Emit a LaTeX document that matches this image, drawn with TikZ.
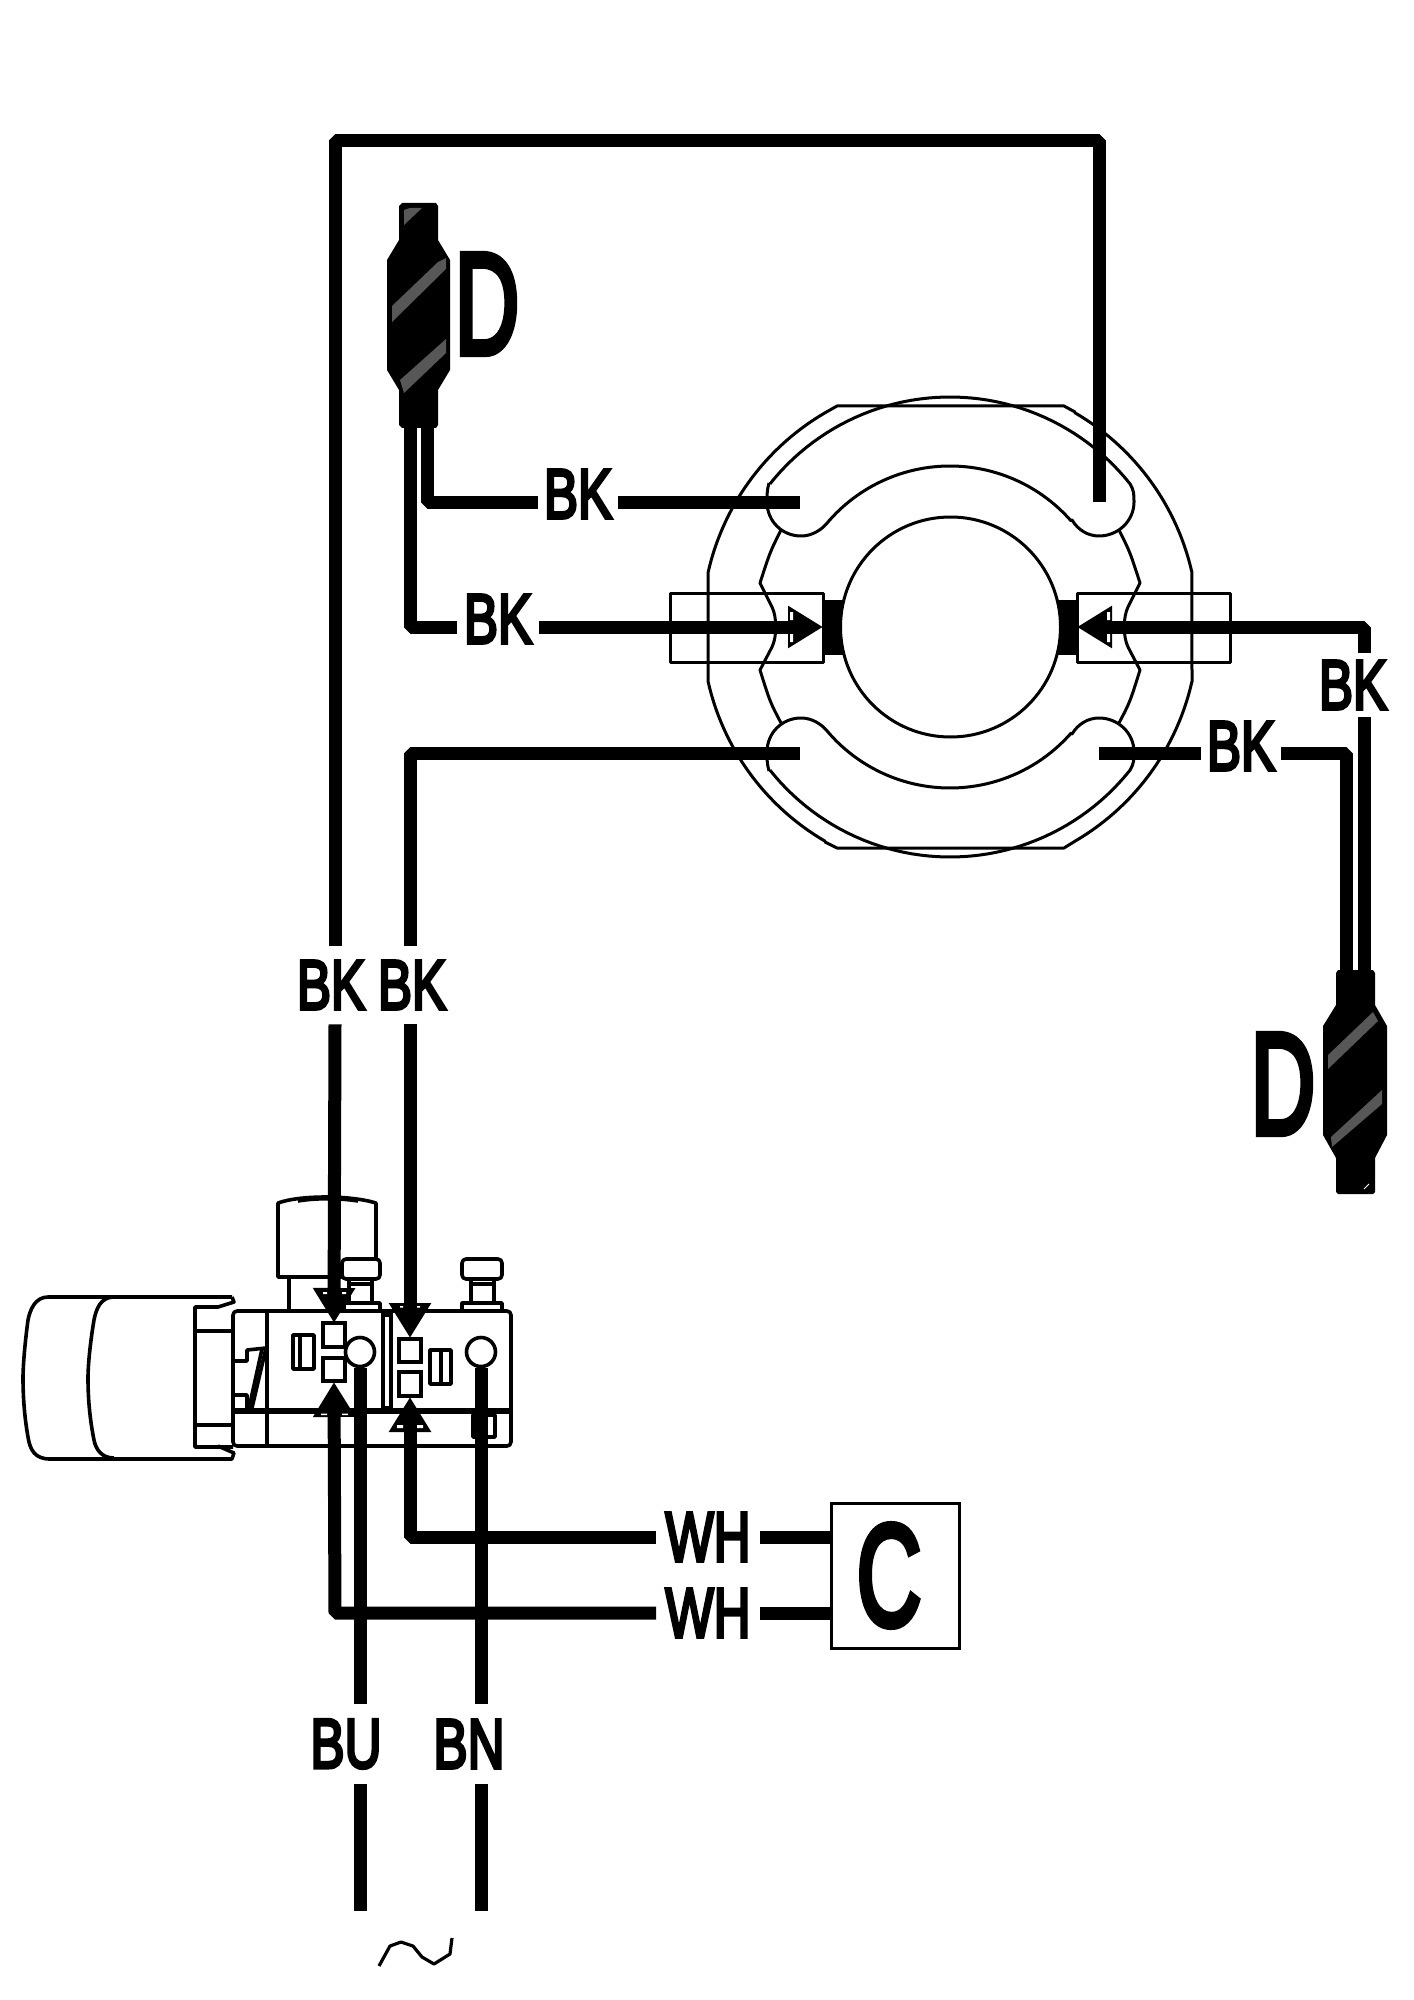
\documentclass[tikz,border=0pt]{standalone}
\usepackage{fontspec}
\setmainfont{Liberation Sans}
\newfontfamily\lblfont[FakeBold=5]{Liberation Sans}
\usetikzlibrary{arrows.meta}
\newcommand{\wirelabeltext}[1]{\fontsize{35pt}{35pt}\lblfont\scalebox{.73}[1]{#1}}
\newcommand{\bigtext}[1]{\fontsize{72pt}{72pt}\lblfont\scalebox{.62}[1]{#1}}
\tikzset{
  wire/.style={line width=6.5pt,line join=bevel,line cap=butt},
  wirearrow/.style={wire,-{Triangle[length=17.5pt,width=20pt]}},
  thinline/.style={line width=1.5pt,line join=round},
  partline/.style={line width=1.8pt,line join=round},
  hatch/.style={fill=black!66,draw=none},
  hlabel/.style={inner sep=0pt,minimum height=26pt},
  vlabel/.style={inner sep=0pt,minimum width=36pt},
  plug/.style={fill=black,draw=none},
  sliver/.style={fill=white,draw=none}
}
\begin{document}
\begin{tikzpicture}[x=0.5pt,y=-0.5pt]
\useasboundingbox (0,0) rectangle (1413,2000);

% ---------- motor / rotor ----------
\draw[thinline] (837,406) -- (1064,406) -- (1075,412)
  -- plot[domain=-59.8:-12.8,samples=30] ({950+248*cos(\x)},{627+248*sin(\x)})
  -- (1192,682)
  -- plot[domain=12.8:59.8,samples=30] ({950+248*cos(\x)},{627+248*sin(\x)})
  -- (1064,848) -- (837,848) -- (825,842)
  -- plot[domain=120.2:167.2,samples=30] ({950+248*cos(\x)},{627+248*sin(\x)})
  -- (708,572)
  -- plot[domain=192.8:239.8,samples=30] ({950+248*cos(\x)},{627+248*sin(\x)})
  -- cycle;
% upper winding
\draw[thinline] plot[domain=218.5:321.5,samples=50] ({950+230*cos(\x)},{627+230*sin(\x)})
  .. controls (1134,490) and (1134,495) .. (1134,502)
  .. controls (1134,521) and (1118,536) .. (1099,536)
  .. controls (1088,536) and (1078,530) .. (1072,520)
  -- plot[domain=318.7:221.3,samples=50] ({950+161*cos(\x)},{627+161*sin(\x)})
  .. controls (822,530) and (812,536) .. (801,536)
  .. controls (782,536) and (767,521) .. (767,502)
  .. controls (767,495) and (767,490) .. (769,483);
% lower winding
\draw[thinline] plot[domain=141.5:38.5,samples=50] ({950+230*cos(\x)},{627+230*sin(\x)})
  .. controls (1134,764) and (1134,759) .. (1134,752)
  .. controls (1134,733) and (1118,718) .. (1099,718)
  .. controls (1088,718) and (1078,724) .. (1072,734)
  -- plot[domain=41.3:138.7,samples=50] ({950+161*cos(\x)},{627+161*sin(\x)})
  .. controls (822,724) and (812,718) .. (801,718)
  .. controls (782,718) and (767,733) .. (767,752)
  .. controls (767,759) and (767,764) .. (769,771);
% pole outlines
\draw[thinline] (1119,530) .. controls (1130,552) .. (1140,583) -- (1128,607)
  .. controls (1123,617) and (1123,637) .. (1128,647) -- (1140,670)
  .. controls (1130,702) .. (1119,723);
\draw[thinline] (781,530) .. controls (770,552) .. (760,583) -- (772,607)
  .. controls (777,617) and (777,637) .. (772,647) -- (760,670)
  .. controls (770,702) .. (781,723);
% brush holders
\draw[thinline] (670,593) rectangle (823,662);
\draw[thinline] (1077,593) rectangle (1230,662);
\fill (823,600) rectangle (860,655);
\fill (1040,600) rectangle (1077,655);
\node[draw,thinline,fill=white,circle,inner sep=0pt,minimum size=110pt] (rotor) at (950.5,627) {};

% ---------- switch ----------
\draw[partline] (232,1297) -- (48,1297) .. controls (35,1297) and (30,1310) .. (28,1320)
  .. controls (24,1350) and (23,1370) .. (23,1378)
  .. controls (23,1400) and (25,1420) .. (28,1437)
  .. controls (30,1450) and (35,1459) .. (50,1459) -- (232,1459) -- (234,1453) -- (218,1446);
\draw[partline] (114,1297) .. controls (100,1297) and (96,1310) .. (94,1320)
  .. controls (89,1350) and (88,1370) .. (88,1378)
  .. controls (88,1400) and (90,1420) .. (94,1440)
  .. controls (96,1450) and (102,1458) .. (114,1458);
\draw[partline] (232,1297) -- (234,1302) -- (218,1307) -- (195,1307) -- (195,1447) -- (233,1447);
\draw[partline] (195,1331) -- (233,1331) (195,1425) -- (233,1425);
% cylinder
\draw[partline] (278,1277) -- (278,1203) .. controls (300,1195) and (350,1195) .. (376,1203) -- (376,1277) -- cycle;
\draw[partline] (298,1201) .. controls (315,1198) and (340,1198) .. (358,1201);
\draw[partline] (289,1277) -- (289,1311);
% screws
\draw[partline,fill=white,rounded corners=2pt] (342,1259) rectangle (380,1279);
\draw[line width=2pt,fill=white] (349,1279) rectangle (372,1303);
\draw[partline] (349,1284) -- (372,1284);
\draw[partline,fill=white] (344,1303) rectangle (380,1311);
\draw[partline,fill=white,rounded corners=2pt] (462,1259) rectangle (502,1279);
\draw[line width=2pt,fill=white] (471,1279) rectangle (494,1303);
\draw[partline] (471,1284) -- (494,1284);
\draw[partline,fill=white] (462,1303) rectangle (502,1311);
% body
\draw[partline,fill=white,rounded corners=2pt] (233,1311) rectangle (511,1446);
\draw[partline] (267,1311) -- (267,1446);
\draw[line width=3.2pt] (233,1411) -- (511,1411);
\draw[partline] (234,1361) -- (247,1361) -- (247,1350) -- (266,1348) -- (252,1408);
\draw[partline] (262,1349) -- (249,1408);
\draw[partline] (234,1395) -- (247,1395) -- (247,1409);
\draw[partline] (293,1335) rectangle (314,1369) (300,1335) -- (300,1369);
\draw[line width=1.8pt] (323,1323) rectangle (345,1347);
\draw[line width=1.8pt] (323,1358) rectangle (345,1381);
\draw[line width=2.2pt] (383,1315) rectangle (391,1408);
\draw[line width=1.8pt] (399,1339) rectangle (421,1362);
\draw[line width=1.8pt] (399,1372) rectangle (421,1396);
\draw[partline] (430,1350) rectangle (451,1384) (441,1350) -- (441,1384);
\draw[partline] (473,1415) rectangle (495,1437);
\node[draw,partline,fill=white,circle,inner sep=0pt,minimum size=14.5pt] (termBU) at (360,1352) {};
\node[draw,partline,fill=white,circle,inner sep=0pt,minimum size=14.5pt] (termBN) at (481,1352) {};

% ---------- plugs ----------
\path[plug] (402,203) -- (436,203) -- (438,206) -- (438,240) -- (450,260) -- (450,370) -- (438,390)
  -- (438,425) -- (436,428) -- (402,428) -- (399,425) -- (399,390) -- (387,370) -- (387,260)
  -- (399,240) -- (399,206) -- cycle;
\path[hatch] (404,225) -- (404,210) -- (410,208) -- (422,208) -- cycle;
\path[hatch] (392,322) -- (392,306) -- (438,262) -- (446,258) -- (446,269) -- cycle;
\path[hatch] (400,380) -- (446,339) -- (446,353) -- (404,393) -- cycle;
\path[plug] (1338,970) -- (1373,970) -- (1375,973) -- (1375,1005) -- (1387,1026) -- (1387,1135)
  -- (1375,1158) -- (1375,1192) -- (1373,1194) -- (1338,1194) -- (1336,1192) -- (1336,1158)
  -- (1323,1135) -- (1323,1026) -- (1336,1005) -- (1336,973) -- cycle;
\path[hatch] (1328,1069) -- (1328,1055) -- (1373,1012) -- (1378,1021) -- cycle;
\path[hatch] (1332,1147) -- (1331,1137) -- (1382,1090) -- (1382,1104) -- cycle;
\draw[white,line width=.5pt] (1364,1189) -- (1369,1184);

% ---------- labels and box ----------
\node[hlabel,minimum width=40pt] (lblA) at (578,494) {\wirelabeltext{BK}};
\node[hlabel,minimum width=41pt] (lblB) at (498,619) {\wirelabeltext{BK}};
\node[hlabel,minimum width=39.5pt] (lblC) at (1241,746) {\wirelabeltext{BK}};
\node[vlabel,minimum height=32pt] (lblD) at (1353,685) {\wirelabeltext{BK}};
\node[vlabel,minimum height=39pt] (lblE) at (331,985) {\wirelabeltext{BK}};
\node[vlabel,minimum height=39pt] (lblF) at (412,985) {\wirelabeltext{BK}};
\node[hlabel,minimum width=51.5pt] (lblG) at (708,1537) {\wirelabeltext{WH}};
\node[hlabel,minimum width=51.5pt] (lblH) at (708,1613) {\wirelabeltext{WH}};
\node[vlabel,minimum height=39.5pt] (lblI) at (346,1744) {\wirelabeltext{BU}};
\node[vlabel,minimum height=39.5pt] (lblJ) at (469,1744) {\wirelabeltext{BN}};
\node[draw,line width=1.5pt,minimum width=64pt,minimum height=72.5pt,inner sep=0pt] (boxC) at (895,1575.5) {\hspace*{-6pt}\bigtext{C}};
\node[inner sep=0pt] (letterD1) at (487,304) {\bigtext{D}};
\node[inner sep=0pt] (letterD2) at (1283,1084) {\bigtext{D}};

% ---------- named wire points ----------
\coordinate (plugAa) at (410,428);
\coordinate (plugAb) at (427,428);
\coordinate (plugBa) at (1346,970);
\coordinate (plugBb) at (1364,970);
\coordinate (slotTL) at (800,502);
\coordinate (slotTR) at (1099,502);
\coordinate (slotBL) at (800,753);
\coordinate (slotBR) at (1099,753);
\coordinate (tipL) at (823,627);
\coordinate (tipR) at (1077,627);
\coordinate (topL) at (335,141);
\coordinate (wireE) at (335,1613);
\coordinate (wireF) at (410,1537);
\coordinate (cornerA) at (410,753);
\coordinate (cornerB) at (427,502);
\coordinate (cornerC) at (1346,753);
\coordinate (cornerD) at (1364,627);
\coordinate (cornerE) at (410,627);
\coordinate (tipSW1) at (334,1323);
\coordinate (tipSW2) at (410,1338);
\coordinate (tipSW3) at (334,1382);
\coordinate (tipSW4) at (410,1397);
\coordinate (endBU) at (360,1911);
\coordinate (endBN) at (481,1911);

% ---------- wires ----------
\draw[wire] (slotTL) -- (slotTL -| lblA.east);
\draw[wire] (slotTL -| lblA.west) -- (cornerB) -- (plugAb);
\draw[wire] (plugAa) -- (cornerE) -- (cornerE -| lblB.west);
\draw[wirearrow] (cornerE -| lblB.east) -- (tipL);
\draw[wire] (slotTR) |- (topL) -- (topL |- lblE.north);
\draw[wirearrow] (topL |- lblE.south) -- (tipSW1);
\draw[wire] (slotBL) -- (cornerA) -- (cornerA |- lblF.north);
\draw[wirearrow] (cornerA |- lblF.south) -- (tipSW2);
\draw[wirearrow] (cornerD |- lblD.north) -- (cornerD) -- (tipR);
\draw[wire] (plugBb) -- (cornerD |- lblD.south);
\draw[wire] (plugBa) -- (cornerC) -- (cornerC -| lblC.east);
\draw[wire] (slotBR) -- (slotBR -| lblC.west);
\draw[wire] (boxC.west |- wireF) -- (wireF -| lblG.east);
\draw[wirearrow] (wireF -| lblG.west) -- (wireF) -- (tipSW4);
\draw[wire] (boxC.west |- wireE) -- (wireE -| lblH.east);
\draw[wirearrow] (wireE -| lblH.west) -- (wireE) -- (tipSW3);
\draw[wire] (termBU.south) -- (termBU |- lblI.north);
\draw[wire] (termBU |- lblI.south) -- (endBU);
\draw[wire] (termBN.south) -- (termBN |- lblJ.north);
\draw[wire] (termBN |- lblJ.south) -- (endBN);

% white slivers inside the arrowheads
\path[sliver] (790,612) rectangle (793,620) (790,634) rectangle (793,642);
\path[sliver] (1107,612) rectangle (1110,620) (1107,634) rectangle (1110,642);
\path[sliver] (323,1292) rectangle (327,1294) (342,1292) rectangle (346,1294);
\path[sliver] (400,1306) rectangle (403,1307.5) (417,1306) rectangle (420,1307.5);
\path[sliver] (321,1413.5) rectangle (327,1415) (342,1413.5) rectangle (348,1415);
\path[sliver] (397,1425) rectangle (403,1428) (417,1425) rectangle (423,1428);

% ---------- mains symbol ----------
\draw[line width=1.6pt,line join=round] (379,1966) -- (390,1946) -- (401,1942) -- (413,1946) -- (422,1957) -- (434,1964) -- (450,1954) -- (452,1938);
\end{tikzpicture}
\end{document}
